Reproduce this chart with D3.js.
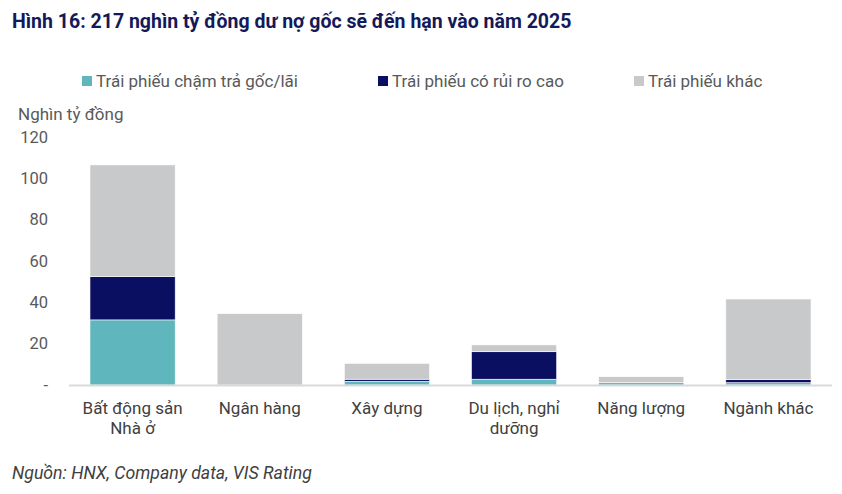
<!DOCTYPE html>
<html>
<head>
<meta charset="utf-8">
<script src="https://cdn.jsdelivr.net/npm/d3@7"></script>
<style>
  body { margin: 0; background: #fff; }
  text { font-family: Roboto, "Noto Sans", sans-serif; }
</style>
</head>
<body>
<div class="canvas"></div>
<script>
// data
const categories = ['Bất động sản\nNhà ở', 'Ngân hàng', 'Xây dựng', 'Du lịch, nghỉ\ndưỡng', 'Năng lượng', 'Ngành khác']
const seriesNames = ['Trái phiếu chậm trả gốc/lãi', 'Trái phiếu có rủi ro cao', 'Trái phiếu khác']
const defaulted = [31.5, 0, 1.8, 2.8, 1.1, 1.1]
const highRisk = [21, 0, 1, 13.3, 0, 1.5]
const others = [54, 34.5, 7.7, 3.3, 2.9, 39]
const yTicks = [0, 20, 40, 60, 80, 100, 120]

const colors = ['#5fb6bc', '#0a0f62', '#c8c9cb']

const dims = { width: 842, height: 494 }
const margin = { left: 69, right: 10, top: 137, bottom: 109 }

const svg = d3.select('.canvas')
  .append('svg')
  .attr('width', dims.width)
  .attr('height', dims.height)

// title
svg.append('text')
  .attr('x', 12)
  .attr('y', 28)
  .attr('font-size', 19.5)
  .attr('font-weight', 'bold')
  .attr('fill', '#14195a')
  .text('Hình 16: 217 nghìn tỷ đồng dư nợ gốc sẽ đến hạn vào năm 2025')

// legend
const legendX = [82, 378, 634]
const legend = svg.append('g')
seriesNames.forEach((name, i) => {
  legend.append('rect')
    .attr('x', legendX[i])
    .attr('y', 76)
    .attr('width', 10)
    .attr('height', 10)
    .attr('fill', colors[i])
  legend.append('text')
    .attr('x', legendX[i] + 14)
    .attr('y', 87)
    .attr('font-size', 17)
    .attr('fill', '#595959')
    .text(name)
})

// unit label
svg.append('text')
  .attr('x', 18)
  .attr('y', 120)
  .attr('font-size', 17)
  .attr('fill', '#595959')
  .text('Nghìn tỷ đồng')

const x = d3.scaleBand()
  .domain(categories)
  .range([margin.left, dims.width - margin.right])
  .paddingInner(0.33)
  .paddingOuter(0.165)

const y = d3.scaleLinear()
  .domain([0, 120])
  .range([dims.height - margin.bottom, margin.top])

// y tick labels (no axis line)
const yAxis = d3.axisLeft(y)
  .tickValues(yTicks)
  .tickSize(0)
  .tickPadding(0)
  .tickFormat(d => d === 0 ? '-' : d)

svg.append('g')
  .attr('transform', 'translate(48, 0)')
  .call(yAxis)
  .call(g => g.select('.domain').remove())
  .selectAll('text')
    .attr('font-size', 16.5)
    .attr('fill', '#595959')
    .attr('font-family', 'Roboto, sans-serif')

// stacked bars
const rows = categories.map((c, i) => ({ cat: c, s0: defaulted[i], s1: highRisk[i], s2: others[i] }))
const stack = d3.stack().keys(['s0', 's1', 's2'])
const layers = stack(rows)

svg.append('g')
  .selectAll('g')
  .data(layers)
  .join('g')
    .attr('fill', (d, i) => colors[i])
  .selectAll('rect')
  .data(d => d.filter(p => p[1] > p[0]))
  .join('rect')
    .attr('x', d => x(d.data.cat))
    .attr('width', x.bandwidth())
    .attr('y', d => y(d[1]))
    .attr('height', d => y(d[0]) - y(d[1]))
    .attr('stroke', '#fff')
    .attr('stroke-width', 0.6)

// x axis line
svg.append('line')
  .attr('x1', margin.left)
  .attr('x2', dims.width - margin.right)
  .attr('y1', y(0) + 0.5)
  .attr('y2', y(0) + 0.5)
  .attr('stroke', '#d9d9d9')
  .attr('stroke-width', 2)

// category labels
const catLabels = svg.append('g')
  .selectAll('text')
  .data(categories)
  .join('text')
    .attr('text-anchor', 'middle')
    .attr('font-size', 17)
    .attr('fill', '#404040')
    .attr('x', d => x(d) + x.bandwidth() / 2)
    .attr('y', 414)

catLabels.selectAll('tspan')
  .data(d => d.split('\n'))
  .join('tspan')
    .attr('x', function() { return d3.select(this.parentNode).attr('x') })
    .attr('dy', (d, i) => i === 0 ? 0 : 20)
    .text(d => d)

// source
svg.append('text')
  .attr('x', 12)
  .attr('y', 479)
  .attr('font-size', 17.7)
  .attr('font-style', 'italic')
  .attr('fill', '#404040')
  .text('Nguồn: HNX, Company data, VIS Rating')
</script>
</body>
</html>
